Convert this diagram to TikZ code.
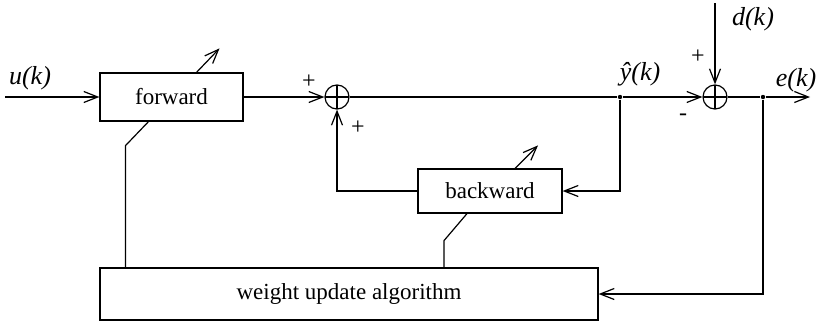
\documentclass[tikz,border=0pt]{standalone}
\usepackage{fontspec}
\setmainfont{Liberation Serif}
\usepackage{tikz}
\usetikzlibrary{arrows.meta, positioning, calc}

\begin{document}
\begin{tikzpicture}[x=0.5pt, y=-0.5pt, line width=0.6pt,
      every node/.style={font=\fontsize{11.5}{13}\selectfont},
      blk/.style={draw, inner sep=0pt},
      sumnd/.style={draw, circle, minimum size=12pt, inner sep=0pt,
                 path picture={\draw (path picture bounding box.north) -- (path picture bounding box.south)
                   (path picture bounding box.west) -- (path picture bounding box.east);}},
      arr/.style={-{Straight Barb[length=7pt,width=5.5pt]}},
      sig/.style={font=\fontsize{13}{15}\selectfont\itshape},
      sgn/.style={font=\fontsize{12}{14}\selectfont},
      jdot/.style={circle, fill, inner sep=0pt, minimum size=2.2pt}]
      \useasboundingbox (0,0) rectangle (822,332);
      % Blocks
      \node[blk, minimum width=71.5pt, minimum height=24pt] (forward) at (171.5,97) {forward};
      \node[blk, minimum width=72pt, minimum height=22pt] (backward) at (490,191) {backward};
      \node[blk, minimum width=249pt, minimum height=26pt] (weight) at (349,294) {weight update algorithm};
      % Summing points and branch points
      \node[sumnd] (sumA) at (337,97) {};
      \node[sumnd] (sumB) at (715,97) {};
      \node[jdot] (ydot) at (620,97) {};
      \node[jdot] (edot) at (763,97) {};
      \coordinate (uin) at (5,97);
      \coordinate (din) at (715,3);
      \coordinate (eout) at (810,97);
      % Signal paths
      \draw[arr] (uin) -- (forward);
      \draw[arr] (forward) -- (sumA);
      \draw (sumA) -- (ydot);
      \draw[arr] (ydot) -- (sumB);
      \draw[arr] (din) -- (sumB);
      \draw (sumB) -- (edot);
      \draw[arr] (edot) -- (eout);
      \draw[arr] (ydot) |- (backward);
      \draw[arr] (backward) -| (sumA);
      \draw[arr] (edot) |- (weight);
      % Weight links
      \draw ($(forward.south)+(-23,0)$) -- ++(-23,24) coordinate (fwk) -- (fwk |- weight.north);
      \draw ($(backward.south)+(-23,0)$) -- ++(-23,27) coordinate (bwk) -- (bwk |- weight.north);
      % Adjustable weights
      \draw[arr] ($(forward.north)+(25,0)$) -- ++(23,-24);
      \draw[arr] ($(backward.north)+(25,0)$) -- ++(23,-23);
      % Labels
      \node[sig] (ulbl) at (30,78) {u(k)};
      \node[sig] (ylbl) at (640,74) {\^{y}(k)};
      \node[sig] (dlbl) at (753,19) {d(k)};
      \node[sig] (elbl) at (796,80) {e(k)};
      \node[sgn] (pA) at (309,82) {+};
      \node[sgn] (pB) at (358,128) {+};
      \node[sgn] (pC) at (698,57) {+};
      \node[sgn] (mC) at (683,117) {-};
    \end{tikzpicture}
\end{document}
